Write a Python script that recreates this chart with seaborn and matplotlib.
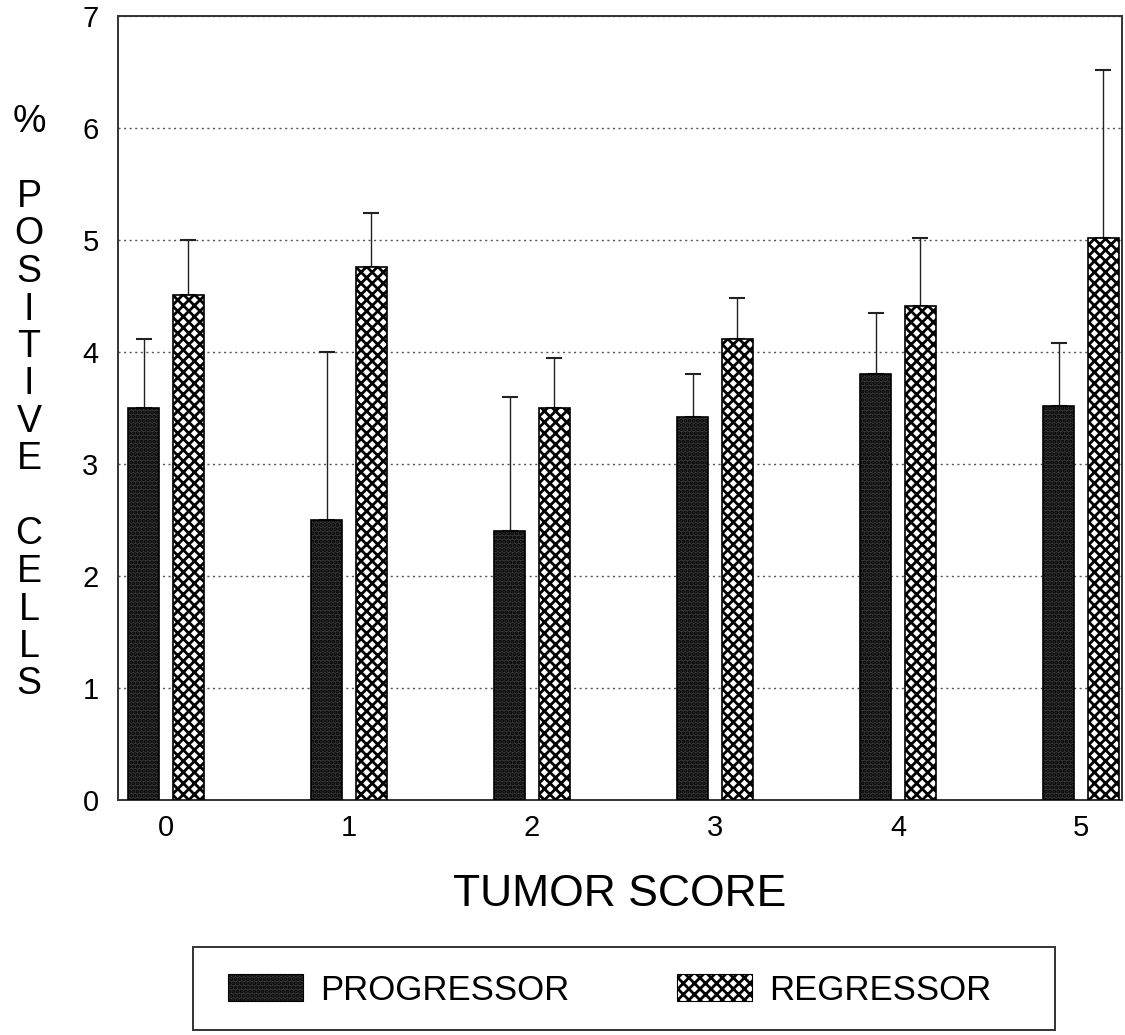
import matplotlib
matplotlib.use("Agg")
import matplotlib.pyplot as plt
from matplotlib.patches import Patch, Rectangle
import seaborn as sns
import pandas as pd

# Data: mean % positive cells and upper error limits per tumor score
scores = ["0", "1", "2", "3", "4", "5"]
groups = ["PROGRESSOR", "REGRESSOR"]
progressor_mean = [3.50, 2.50, 2.40, 3.42, 3.80, 3.52]
progressor_upper = [4.12, 4.00, 3.60, 3.80, 4.35, 4.08]
regressor_mean = [4.51, 4.76, 3.50, 4.12, 4.41, 5.02]
regressor_upper = [5.00, 5.24, 3.95, 4.48, 5.02, 6.52]
y_ticks = [0, 1, 2, 3, 4, 5, 6, 7]
y_label_lines = ["%", "", "P", "O", "S", "I", "T", "I", "V", "E", "", "C", "E", "L", "L", "S"]

df = pd.DataFrame({
    "score": scores * 2,
    "group": [groups[0]] * len(scores) + [groups[1]] * len(scores),
    "value": progressor_mean + regressor_mean,
})
uppers = {groups[0]: progressor_upper, groups[1]: regressor_upper}

sns.set_style("white")
plt.rcParams["font.family"] = ["Liberation Sans", "DejaVu Sans"]
plt.rcParams["hatch.linewidth"] = 2.0
plt.rcParams["text.color"] = "black"
plt.rcParams["xtick.color"] = "black"
plt.rcParams["ytick.color"] = "black"
plt.rcParams["axes.labelcolor"] = "black"

W, H = 1125, 1035
fig = plt.figure(figsize=(W / 100, H / 100), dpi=100)
ax = fig.add_axes([118 / W, 1 - 800 / H, 1004 / W, 784 / H])

colors = {groups[0]: "#3a3a3a", groups[1]: "white"}
hatches = {groups[0]: "....", groups[1]: "xxx"}

sns.barplot(data=df, x="score", y="value", hue="group", order=scores,
            hue_order=groups, palette=colors, width=0.49, gap=0.3,
            errorbar=None, edgecolor="black", linewidth=1.2,
            legend=False, ax=ax, zorder=3)

# Hatch textures and one-sided (upper) error bars
for grp, container in zip(groups, ax.containers):
    for bar, up in zip(container, uppers[grp]):
        bar.set_hatch(hatches[grp])
        bar.set_edgecolor("black")
        xc = bar.get_x() + bar.get_width() / 2
        top = bar.get_height()
        ax.errorbar(xc, top, yerr=[[0], [up - top]], fmt="none",
                    ecolor="#222222", elinewidth=1.0, capsize=6,
                    capthick=1.5, zorder=2)

ax.set_xlim(-0.262, 5.224)
ax.set_ylim(0, 7)
ax.set_yticks(y_ticks)
ax.set_yticklabels([str(t) for t in y_ticks])

ax.set_axisbelow(True)
ax.yaxis.grid(True, linestyle=(0, (1.5, 2.5)), color="#555555", linewidth=1.0)
ax.xaxis.grid(False)

for side in ["left", "right", "top", "bottom"]:
    ax.spines[side].set_visible(True)
    ax.spines[side].set_color("#333333")
    ax.spines[side].set_linewidth(1.4)

ax.tick_params(axis="y", direction="in", length=12, width=1.5,
               color="#333333", labelcolor="black", pad=14, labelsize=21)
ax.tick_params(axis="x", length=0, pad=10, labelcolor="black", labelsize=21)
ax.set_xlabel("TUMOR SCORE", fontsize=32, labelpad=23, color="black")
ax.set_ylabel("")

# Vertical stacked-letter axis title
pitch = 37.5
y0 = 122
for i, ch in enumerate(y_label_lines):
    if ch:
        fig.text(29 / W, 1 - (y0 + i * pitch) / H, ch, fontsize=27,
                 ha="center", va="center", color="black")

# Legend box with patch samples
fig.patches.append(Rectangle((193 / W, 1 - 1030 / H), 862 / W, 83 / H,
                             transform=fig.transFigure, facecolor="white",
                             edgecolor="#333333", linewidth=1.4))
handles = [Patch(facecolor=colors[g], edgecolor="black", hatch=hatches[g],
                 linewidth=0.8, label=g) for g in groups]
leg = fig.legend(handles=handles, ncol=2, loc="center left",
                 bbox_to_anchor=(228 / W, 1 - 990 / H),
                 fontsize=25, frameon=False, borderpad=0,
                 handlelength=2.15, handleheight=0.85,
                 handletextpad=0.5, columnspacing=3.1, borderaxespad=0)
for t in leg.get_texts():
    t.set_color("black")

fig.savefig("out.png", dpi=100)
